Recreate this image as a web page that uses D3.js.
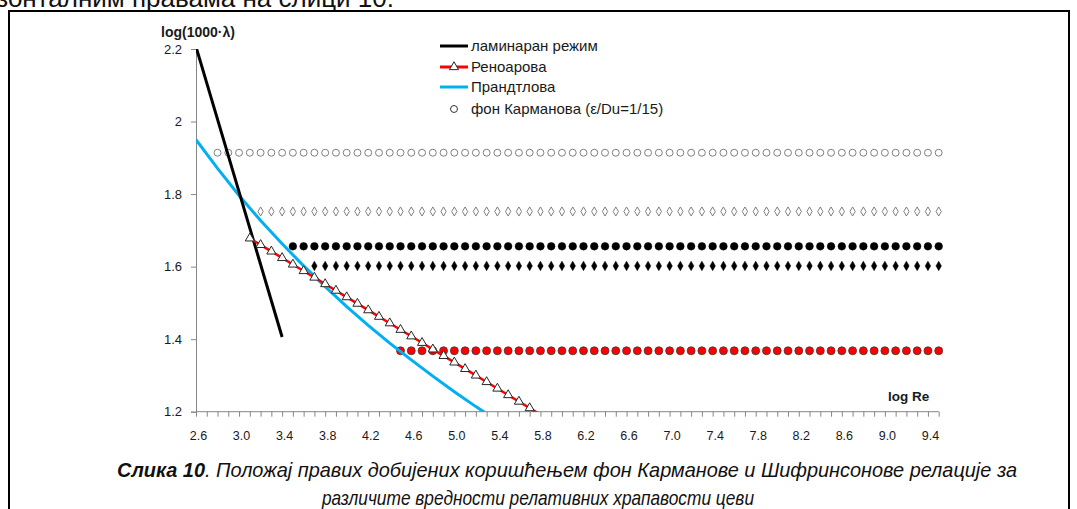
<!DOCTYPE html>
<html>
<head>
<meta charset="utf-8">
<script src="https://cdn.jsdelivr.net/npm/d3@7"></script>
<style>
    body { margin: 0; background: #fff; }
    svg { display: block; font-family: "Liberation Sans", Arial, sans-serif; }
    .axis path, .axis line { stroke: #868686; }
    .axis text { fill: #1a1a1a; }
</style>
</head>
<body>
<div id="chart"></div>
<script>
// x grid (log Re), step 0.1
const logRe = [2.6, 2.7, 2.8, 2.9, 3.0, 3.1, 3.2, 3.3, 3.4, 3.5, 3.6, 3.7, 3.8, 3.9, 4.0, 4.1, 4.2, 4.3, 4.4, 4.5,
    4.6, 4.7, 4.8, 4.9, 5.0, 5.1, 5.2, 5.3, 5.4, 5.5, 5.6, 5.7, 5.8, 5.9, 6.0, 6.1, 6.2, 6.3, 6.4, 6.5,
    6.6, 6.7, 6.8, 6.9, 7.0, 7.1, 7.2, 7.3, 7.4, 7.5, 7.6, 7.7, 7.8, 7.9, 8.0, 8.1, 8.2, 8.3, 8.4, 8.5,
    8.6, 8.7, 8.8, 8.9, 9.0, 9.1, 9.2, 9.3, 9.4, 9.5];
const xLabels = [2.6, 3.0, 3.4, 3.8, 4.2, 4.6, 5.0, 5.4, 5.8, 6.2, 6.6, 7.0, 7.4, 7.8, 8.2, 8.6, 9.0, 9.4];
const yTicks = [1.2, 1.4, 1.6, 1.8, 2.0, 2.2];

// ламинаран режим
const laminarX = [2.6, 3.0, 3.4];
const laminarY = [2.206, 1.806, 1.406];

// Прандтлова
const prandtlX = [2.6, 2.8, 3.0, 3.2, 3.4, 3.6, 3.8, 4.0, 4.2, 4.4, 4.6, 4.8, 5.0, 5.2, 5.4];
const prandtlY = [1.950, 1.871, 1.796, 1.727, 1.663, 1.602, 1.545, 1.490, 1.438, 1.389, 1.343, 1.298, 1.255, 1.214, 1.175];

// Реноарова
const renouardX = [3.1, 3.2, 3.3, 3.4, 3.5, 3.6, 3.7, 3.8, 3.9, 4.0, 4.1, 4.2, 4.3, 4.4,
    4.5, 4.6, 4.7, 4.8, 4.9, 5.0, 5.1, 5.2, 5.3, 5.4, 5.5, 5.6, 5.7, 5.8];
const renouardY = [1.678, 1.660, 1.642, 1.624, 1.606, 1.588, 1.570, 1.552, 1.534, 1.516, 1.498, 1.480, 1.462, 1.444,
    1.426, 1.408, 1.390, 1.372, 1.354, 1.336, 1.318, 1.300, 1.282, 1.264, 1.246, 1.228, 1.210, 1.192];

// фон Карман, horizontal rows (value, first log Re)
const karmanY = [1.914, 1.752, 1.656, 1.602, 1.368];
const karmanStart = [2.8, 3.2, 3.5, 3.7, 4.5];
const karmanMarker = ["circleOpen", "diamondOpen", "circle", "diamond", "circleRed"];

const legendNames = ["ламинаран режим", "Реноарова", "Прандтлова", "фон Карманова (ε/Du=1/15)"];

const width = 1077, height = 509;
const plot = { left: 196, top: 49, right: 938.7, bottom: 411.7 };

const svg = d3.select("#chart").append("svg")
    .attr("width", width).attr("height", height);

// document text cut off at top
svg.append("text")
    .attr("x", 394).attr("y", 7)
    .attr("text-anchor", "end")
    .style("font-size", "26px").style("fill", "#111")
    .text("хоризонталним правама на слици 10.");

// frame
svg.append("rect")
    .attr("x", 9).attr("y", 11)
    .attr("width", 1060).attr("height", 520)
    .attr("fill", "none").attr("stroke", "#000").attr("stroke-width", 2);

const x = d3.scaleLinear().domain([2.6, 9.5]).range([plot.left, plot.right]);
const y = d3.scaleLinear().domain([1.2, 2.2]).range([plot.bottom, plot.top]);

svg.append("defs").append("clipPath").attr("id", "plotClip")
    .append("rect")
    .attr("x", plot.left).attr("y", plot.top)
    .attr("width", plot.right - plot.left).attr("height", plot.bottom - plot.top);

//AXIS ------------------------
const yAxis = svg.append("g")
    .attr("class", "axis")
    .attr("transform", `translate(${plot.left},0)`)
    .call(d3.axisLeft(y).tickValues(yTicks).tickSize(5).tickPadding(9)
        .tickFormat((d) => String(+d.toFixed(1))));
yAxis.selectAll("text").style("font-size", "13px");

const xAxis = svg.append("g")
    .attr("class", "axis")
    .attr("transform", `translate(0,${plot.bottom})`)
    .call(d3.axisBottom(x).tickValues(logRe).tickSize(5).tickFormat(""));
xAxis.select(".domain").attr("d", `M${plot.left},0H${plot.right}`);

const xLabelAxis = svg.append("g")
    .attr("class", "axis")
    .attr("transform", `translate(2,${plot.bottom})`)
    .call(d3.axisBottom(x).tickValues(xLabels).tickSize(0).tickPadding(19)
        .tickFormat(d3.format(".1f")));
xLabelAxis.select(".domain").remove();
xLabelAxis.selectAll("text").style("font-size", "12.5px");

svg.append("text")
    .attr("x", 161).attr("y", 37)
    .style("font-size", "14px").style("font-weight", "bold").style("fill", "#1a1a1a")
    .text("log(1000·λ)");

svg.append("text")
    .attr("x", 888).attr("y", 401)
    .style("font-size", "13.5px").style("font-weight", "bold").style("fill", "#1a1a1a")
    .text("log Re");

//MARKERS ------------------------
const markerStyle = {
    circleOpen: { type: d3.symbolCircle, size: 38, fill: "#fff", stroke: "#7f7f7f", sw: 1 },
    diamondOpen: { type: d3.symbolDiamond, size: 24, fill: "#fff", stroke: "#7f7f7f", sw: 1 },
    circle: { type: d3.symbolCircle, size: 46, fill: "#000", stroke: "#000", sw: 0.5 },
    diamond: { type: d3.symbolDiamond, size: 26, fill: "#000", stroke: "#000", sw: 0.5 },
    circleRed: { type: d3.symbolCircle, size: 50, fill: "#ff0000", stroke: "#3a3a3a", sw: 0.8 },
    triangle: { type: d3.symbolTriangle, size: 36, fill: "#fff", stroke: "#262626", sw: 1 },
};

function drawMarkers(points, key, cls) {
    const st = markerStyle[key];
    svg.append("g").attr("class", cls)
        .selectAll("path").data(points)
        .join("path")
        .attr("transform", (d) => `translate(${x(d[0])},${y(d[1])})`)
        .attr("d", d3.symbol().type(st.type).size(st.size))
        .attr("fill", st.fill).attr("stroke", st.stroke).attr("stroke-width", st.sw);
}

karmanY.forEach((val, i) => {
    const pts = logRe.filter((r) => r >= karmanStart[i] - 1e-9).map((r) => [r, val]);
    drawMarkers(pts, karmanMarker[i], `karman-${i}`);
});

//LINES ------------------------
const line = d3.line().x((d) => x(d[0])).y((d) => y(d[1]));
const lines = svg.append("g").attr("clip-path", "url(#plotClip)");

const prandtl = prandtlX.map((v, i) => [v, prandtlY[i]]);
const laminar = laminarX.map((v, i) => [v, laminarY[i]]);
const renouard = renouardX.map((v, i) => [v, renouardY[i]]);

lines.append("path").datum(prandtl)
    .attr("d", line).attr("fill", "none")
    .attr("stroke", "#00b0f0").attr("stroke-width", 3);

lines.append("path").datum(laminar)
    .attr("d", line).attr("fill", "none")
    .attr("stroke", "#000").attr("stroke-width", 3);

lines.append("path").datum(renouard)
    .attr("d", line).attr("fill", "none")
    .attr("stroke", "#ff0000").attr("stroke-width", 2.5);

drawMarkers(renouard.filter((d) => d[1] >= 1.2), "triangle", "renouard-markers");

//LEGEND ------------------------
const legendRows = [46, 67, 87, 109];
const legend = svg.append("g").attr("class", "legend");
const legendColors = ["#000", "#ff0000", "#00b0f0"];
legendColors.forEach((c, i) => {
    legend.append("line")
        .attr("x1", 440).attr("x2", 468)
        .attr("y1", legendRows[i]).attr("y2", legendRows[i])
        .attr("stroke", c).attr("stroke-width", 3);
});
const lgTri = markerStyle.triangle;
legend.append("path")
    .attr("transform", `translate(454,${legendRows[1]})`)
    .attr("d", d3.symbol().type(lgTri.type).size(lgTri.size))
    .attr("fill", lgTri.fill).attr("stroke", lgTri.stroke).attr("stroke-width", lgTri.sw);
const lgCirc = markerStyle.circleOpen;
legend.append("path")
    .attr("transform", `translate(454,${legendRows[3]})`)
    .attr("d", d3.symbol().type(lgCirc.type).size(lgCirc.size))
    .attr("fill", lgCirc.fill).attr("stroke", "#333").attr("stroke-width", lgCirc.sw);
legend.selectAll("text.lg").data(legendNames)
    .join("text")
    .attr("class", "lg")
    .attr("x", 471)
    .attr("y", (d, i) => legendRows[i] + 5)
    .style("font-size", "15px").style("fill", "#1a1a1a")
    .text((d) => d);

//CAPTION ------------------------
const cap1 = svg.append("text")
    .attr("x", 117).attr("y", 477)
    .attr("textLength", 900).attr("lengthAdjust", "spacingAndGlyphs")
    .style("font-size", "21px").style("font-style", "italic").style("fill", "#111");
cap1.append("tspan").style("font-weight", "bold").text("Слика 10");
cap1.append("tspan").text(". Положај правих добијених коришћењем фон Карманове и Шифринсонове релације за");

svg.append("text")
    .attr("x", 322).attr("y", 505)
    .attr("textLength", 432).attr("lengthAdjust", "spacingAndGlyphs")
    .style("font-size", "21px").style("font-style", "italic").style("fill", "#111")
    .text("различите вредности релативних храпавости цеви");
</script>
</body>
</html>
